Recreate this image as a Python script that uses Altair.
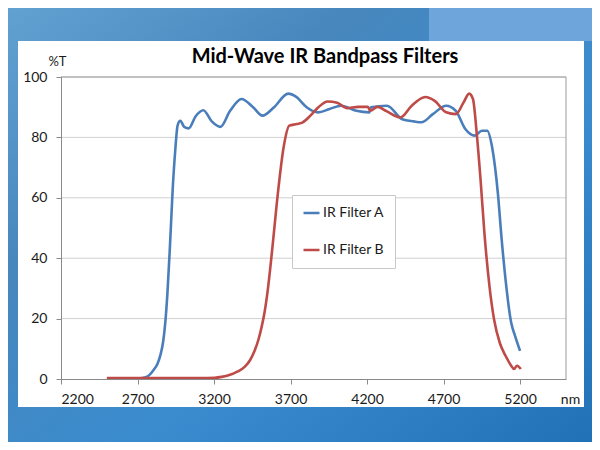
import altair as alt
import pandas as pd

# ---- data ----
series_names = ["IR Filter A", "IR Filter B"]
series_colors = ["#4a7ebb", "#be4b48"]

nm_a = [2500, 2600, 2700, 2740, 2775, 2805, 2830, 2850, 2868, 2882, 2895, 2912, 2930,
        2947, 2962, 2980,
        3005, 3035, 3080, 3130, 3185, 3242, 3305, 3380, 3455, 3517, 3592, 3685, 3735,
        3805, 3880, 3955, 4030, 4130, 4215, 4225, 4330, 4430, 4505, 4555, 4630, 4717,
        4780, 4842, 4905, 4950, 4985, 5017, 5055, 5080, 5105, 5142, 5167, 5200]
t_a = [0.2, 0.2, 0.2, 0.4, 1.2, 3.0, 5.0, 8.0, 12.5, 19, 28, 44, 63,
       76, 84, 85.5,
       83.5, 83, 87, 89, 85.3, 83.5, 88.8, 92.7, 90, 87.2, 90, 94.5, 93.5,
       90, 88.3, 89.4, 90.5, 88.8, 88.3, 90, 90.5, 86, 85.3, 85, 87.7, 90.5,
       88.8, 82.8, 80.6, 82.2, 82.2, 76.8, 61.4, 46, 32.9, 18.6, 14.3, 9.3]

nm_b = [2500, 2700, 2900, 3100, 3205, 3250, 3300, 3355, 3400, 3435, 3467, 3490, 3510,
        3530, 3550, 3580, 3617,
        3655, 3692, 3742, 3780, 3830, 3880, 3942, 4005, 4067, 4142, 4205, 4222, 4267,
        4330, 4417, 4492, 4580, 4642, 4717, 4780, 4830, 4867, 4892, 4917, 4942, 4967,
        5000, 5030, 5067, 5105, 5142, 5160, 5180, 5205]
t_b = [0.3, 0.3, 0.3, 0.3, 0.4, 0.7, 1.3, 2.5, 4.0, 6.2, 9.6, 13, 17,
       22, 29, 42.8, 61.4,
       76.8, 83.9, 84.4, 85, 87.2, 89.9, 91.9, 91.5, 89.7, 90.1, 90.1, 88.8, 90.1,
       88.6, 86.6, 90.5, 93.4, 92.1, 88.3, 87.7, 91.5, 94.5, 92.7, 81.1, 65.8, 48.2,
       30.7, 19.7, 12, 7.7, 4.4, 3.3, 4.4, 3.3]

x_ticks = [2200, 2700, 3200, 3700, 4200, 4700, 5200]
y_ticks = [0, 20, 40, 60, 80, 100]
grid_vals = [20, 40, 60, 80, 100]
title_text = "Mid-Wave IR Bandpass Filters"

# ---- tables ----
lines_df = pd.concat([
    pd.DataFrame({"nm": nm_a, "T": t_a, "series": series_names[0]}),
    pd.DataFrame({"nm": nm_b, "T": t_b, "series": series_names[1]}),
], ignore_index=True)
grid_df = pd.DataFrame({"g": grid_vals})
one = pd.DataFrame({"k": [0]})

W, H = 505, 302
FONT = "Lato"

x_scale = alt.Scale(domain=[2200, 5500], nice=False, zero=False)
y_scale = alt.Scale(domain=[0, 100], nice=False)

x_axis = alt.Axis(values=x_ticks, format="d", grid=False, zindex=1,
                  domainColor="#8a8a8a", tickColor="#8a8a8a", tickSize=5,
                  labelFontSize=14, labelColor="#1a1a1a", labelFont=FONT,
                  labelPadding=8,
                  title="nm", titleFont=FONT, titleFontSize=14, titleFontWeight="normal",
                  titleColor="#1a1a1a", titleAngle=0, titleX=509, titleY=24,
                  titleAlign="center", titleBaseline="alphabetic")
y_axis = alt.Axis(values=y_ticks, grid=False, zindex=1,
                  domainColor="#8a8a8a", tickColor="#8a8a8a", tickSize=5,
                  labelFontSize=14, labelColor="#1a1a1a", labelFont=FONT,
                  labelPadding=9,
                  title="%T", titleFont=FONT, titleFontSize=13, titleFontWeight="normal",
                  titleColor="#1a1a1a", titleAngle=0, titleX=-4, titleY=-12,
                  titleAlign="center", titleBaseline="alphabetic")

bg_grad = alt.LinearGradient(
    gradient="linear", x1=0, y1=0, x2=1, y2=1,
    stops=[alt.GradientStop(offset=0, color="#62a3d3"),
           alt.GradientStop(offset=0.3, color="#4887bd"),
           alt.GradientStop(offset=0.6, color="#3a8ccf"),
           alt.GradientStop(offset=1, color="#1f6fb5")])

background = alt.Chart(one).mark_rect(fill=bg_grad).encode(
    x=alt.value(-60), x2=alt.value(545), y=alt.value(-80), y2=alt.value(380))

top_right = alt.Chart(one).mark_rect(fill="#6ea6dc").encode(
    x=alt.value(368), x2=alt.value(545), y=alt.value(-80), y2=alt.value(-36))

panel = alt.Chart(one).mark_rect(fill="white").encode(
    x=alt.value(-43), x2=alt.value(523), y=alt.value(-36), y2=alt.value(330))

grid = alt.Chart(grid_df).mark_rule(color="#d0d0d0", strokeWidth=1).encode(
    y=alt.Y("g:Q", scale=y_scale, axis=y_axis),
    x=alt.value(0), x2=alt.value(W))

top_border = alt.Chart(one).mark_rule(color="#9a9a9a", strokeWidth=1).encode(
    x=alt.value(0), x2=alt.value(W), y=alt.value(0))
right_border = alt.Chart(one).mark_rule(color="#9a9a9a", strokeWidth=1).encode(
    x=alt.value(W), y=alt.value(0), y2=alt.value(H))

title = alt.Chart(one).mark_text(
    text=title_text, font=FONT, fontSize=20, fontWeight="bold", color="#000000",
    align="center", baseline="alphabetic"
).encode(x=alt.value(264), y=alt.value(-14))

lines = alt.Chart(lines_df).mark_line(strokeWidth=2.6, interpolate="monotone").encode(
    x=alt.X("nm:Q", scale=x_scale, axis=x_axis),
    y=alt.Y("T:Q", scale=y_scale, axis=y_axis),
    color=alt.Color("series:N",
                    scale=alt.Scale(domain=series_names, range=series_colors),
                    legend=alt.Legend(title=None, orient="none", legendX=231, legendY=118,
                                      direction="vertical",
                                      symbolType="stroke", symbolSize=256,
                                      symbolStrokeWidth=2.6, labelFontSize=14,
                                      labelFont=FONT, labelColor="#1a1a1a",
                                      labelOffset=2, rowPadding=21, clipHeight=16,
                                      padding=10, fillColor="white",
                                      strokeColor="#c8c8c8")),
)

chart = alt.layer(
    background, top_right, panel, grid, top_border, right_border, title, lines
).properties(
    width=W, height=H,
    autosize=alt.AutoSizeParams(type="none"),
    padding={"left": 53, "top": 69, "right": 26, "bottom": 63},
    background="#3f86c4",
).configure_view(stroke=None)

chart.save("out.html", embed_options={"renderer": "svg", "actions": False})
